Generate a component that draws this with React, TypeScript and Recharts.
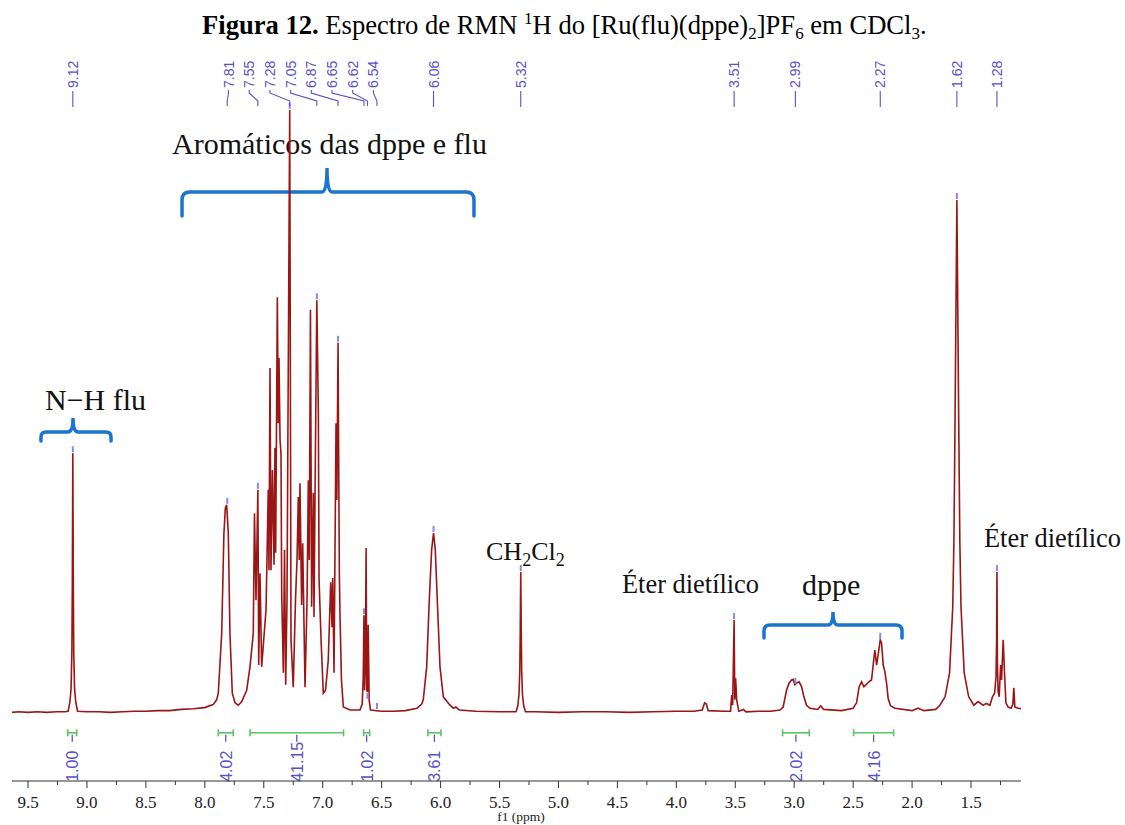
import React from "react";
import { ComposedChart, Line, XAxis, YAxis, ReferenceLine, ReferenceDot } from "recharts";

// [ppm, intensity]; baseline = 0, tallest line ~100
const nhRegion: [number, number][] = [
  [9.636, 0.1], [9.58, 0.2], [9.5, 0.1], [9.42, 0.2], [9.34, 0.1], [9.26, 0.2], [9.19, 0.2],
  [9.16, 0.3], [9.145, 1.8], [9.135, 4], [9.128, 10], [9.124, 22], [9.12, 43.3], [9.116, 22],
  [9.112, 10], [9.105, 4], [9.095, 1.8], [9.08, 0.3], [9.0, 0.2], [8.9, 0.2], [8.8, 0.1],
  [8.7, 0.2], [8.6, 0.3], [8.5, 0.3], [8.4, 0.4], [8.3, 0.4], [8.2, 0.6], [8.1, 0.7], [8.0, 0.9],
];

const aromaticRegion: [number, number][] = [
  [7.93, 1.4], [7.9, 2.2], [7.886, 3.3], [7.857, 13.3], [7.838, 30], [7.826, 34.2], [7.815, 34.7],
  [7.801, 30], [7.787, 13.3], [7.767, 3.3], [7.744, 1.7], [7.716, 1.3], [7.687, 1.9], [7.645, 3.8],
  [7.617, 7.7], [7.589, 13.3], [7.579, 33.3], [7.566, 18.8], [7.55, 37.2], [7.543, 8], [7.532, 23.3],
  [7.518, 7.7], [7.481, 17.2], [7.462, 37.2], [7.456, 23.8], [7.447, 57.5], [7.439, 23.8],
  [7.426, 40.5], [7.413, 24.7], [7.405, 44.2], [7.399, 26.7], [7.385, 69.3], [7.377, 48.3],
  [7.371, 59.2], [7.362, 45.5], [7.354, 43.3], [7.348, 20], [7.334, 6.7], [7.324, 27.2],
  [7.314, 4.7], [7.303, 18.8], [7.28, 100.5], [7.269, 12.2], [7.25, 4.3], [7.231, 18.8],
  [7.218, 25.5], [7.207, 36], [7.199, 25.5], [7.193, 38.3], [7.179, 18], [7.17, 28.3], [7.15, 4.3],
  [7.133, 18.8], [7.122, 38.8], [7.114, 25.5], [7.104, 67.2], [7.094, 17.7], [7.08, 36.7],
  [7.074, 16], [7.065, 36.8], [7.05, 68.8], [7.037, 50], [7.031, 22.2], [7.014, 12.2],
  [6.995, 3.3], [6.976, 3.8], [6.953, 8.8], [6.932, 21.8], [6.921, 14.3], [6.915, 22.5],
  [6.904, 6.7], [6.887, 48.3], [6.88, 35.5], [6.87, 61.7], [6.866, 47.2], [6.859, 23.3],
  [6.853, 16], [6.841, 5.5], [6.825, 1], [6.768, 0.5], [6.684, 0.5], [6.665, 1.5], [6.656, 6],
  [6.65, 16.3], [6.645, 3.8], [6.638, 8], [6.632, 27.5], [6.626, 3.8], [6.621, 3.5], [6.614, 14.7],
  [6.606, 2.2], [6.595, 0.5], [6.5, 0.3],
];

const midRegion: [number, number][] = [
  [6.4, 0.3], [6.3, 0.4], [6.2, 0.8], [6.16, 1.5], [6.147, 2.2], [6.118, 7.7], [6.096, 18.8],
  [6.076, 27.2], [6.06, 30], [6.045, 27.2], [6.028, 18.8], [6.005, 7.7], [5.977, 2.7], [5.92, 1.3],
  [5.89, 0.8], [5.87, 1.0], [5.84, 0.5], [5.7, 0.3], [5.5, 0.2], [5.36, 0.2], [5.345, 1.2],
  [5.335, 3], [5.328, 7], [5.324, 14], [5.32, 23.5], [5.316, 14], [5.312, 7], [5.305, 3],
  [5.295, 1.2], [5.28, 0.2], [5.2, 0.2], [5.0, 0.1], [4.8, 0.2], [4.6, 0.2], [4.4, 0.1], [4.2, 0.2],
  [4.0, 0.3], [3.85, 0.3], [3.78, 0.5], [3.76, 1.7], [3.745, 1.5], [3.73, 0.4], [3.6, 0.3],
  [3.54, 0.3], [3.53, 3], [3.522, 1.3], [3.51, 15.5], [3.504, 2.2], [3.497, 5.8], [3.488, 2.2],
  [3.48, 1.3], [3.47, 0.3], [3.43, 0.6], [3.41, 0.2], [3.3, 0.3], [3.2, 0.3],
];

const aliphaticRegion: [number, number][] = [
  [3.12, 0.5], [3.094, 1], [3.065, 3.8], [3.043, 5], [3.022, 5.5], [3.009, 5.6], [2.994, 4.7],
  [2.98, 5], [2.958, 5.2], [2.938, 4.4], [2.918, 2.7], [2.895, 1.3], [2.867, 0.8], [2.8, 0.6],
  [2.775, 1.2], [2.75, 0.6], [2.6, 0.4], [2.5, 0.8], [2.471, 1.7], [2.449, 4.4], [2.429, 5.2],
  [2.409, 4.4], [2.386, 4.8], [2.367, 5.2], [2.344, 5.5], [2.316, 10.5], [2.301, 8], [2.288, 9.7],
  [2.27, 12.2], [2.259, 11.7], [2.245, 8], [2.231, 6.9], [2.216, 4.9], [2.203, 2.4], [2.183, 1.2],
  [2.146, 0.8], [2.0, 0.4], [1.95, 0.8], [1.9, 0.4], [1.8, 0.6], [1.764, 1.3], [1.72, 2.7],
  [1.682, 6.7], [1.655, 17.7], [1.645, 28.8], [1.635, 50], [1.62, 85.5], [1.605, 50],
  [1.595, 28.8], [1.585, 17.7], [1.558, 6.7], [1.52, 2.7], [1.476, 1.3], [1.44, 1.9], [1.397, 1.3],
  [1.369, 1.6], [1.34, 1.3], [1.318, 2.7], [1.3, 3.3], [1.288, 6], [1.283, 12], [1.28, 23.5],
  [1.276, 8], [1.27, 3.5], [1.261, 2.7], [1.249, 8], [1.241, 5.5], [1.227, 12.2], [1.216, 6.7],
  [1.204, 1.7], [1.185, 1.0], [1.16, 0.8], [1.145, 1.5], [1.137, 4.2], [1.128, 1.0], [1.1, 0.8],
  [1.076, 0.7],
];

// peak picking (label ppm, height of the peak top)
const peakPpm = [9.12, 7.81, 7.55, 7.28, 7.05, 6.87, 6.65, 6.62, 6.54, 6.06, 5.32, 3.51, 2.99, 2.27, 1.62, 1.28];
const peakTop = [43.3, 34.7, 37.2, 100.5, 68.8, 61.7, 16.3, 2.2, 0.5, 30, 23.5, 15.5, 4.7, 12.2, 85.5, 23.5];
const fannedPeaks = [7.81, 7.55, 7.28, 7.05, 6.87, 6.65, 6.62, 6.54];

// integrals
const integralFrom = [9.163, 7.886, 7.617, 6.653, 6.108, 3.099, 2.496];
const integralTo = [9.087, 7.759, 6.823, 6.602, 5.997, 2.872, 2.157];
const integralValue = ["1.00", "4.02", "41.15", "1.02", "3.61", "2.02", "4.16"];

const majorTicks = [9.5, 9.0, 8.5, 8.0, 7.5, 7.0, 6.5, 6.0, 5.5, 5.0, 4.5, 4.0, 3.5, 3.0, 2.5, 2.0, 1.5];
const minorTicks = [9.25, 8.75, 8.25, 7.75, 7.25, 6.75, 6.25, 5.75, 5.25, 4.75, 4.25, 3.75, 3.25, 2.75, 2.25, 1.75, 1.25];

const spectrum = [...nhRegion, ...aromaticRegion, ...midRegion, ...aliphaticRegion].map(([ppm, h]) => ({ ppm, h }));

const SERIF = "'Liberation Serif', 'Times New Roman', serif";
const SANS = "'Liberation Sans', Arial, sans-serif";
const PICK = "#5652c6";
const INTEGRAL_Y = -3.3;
const FAN_X0 = 228.5;
const FAN_GAP = 20.7;

function AxisTick({ x, y, payload }: any) {
  const v = payload.value;
  const major = majorTicks.includes(v);
  return (
    <g>
      <line x1={x} x2={x} y1={y} y2={y + (major ? 7 : 4)} stroke="#333" strokeWidth={1} />
      {major && (
        <text x={x} y={y + 27} textAnchor="middle" fontFamily={SERIF} fontSize={17} fill="#222">
          {v.toFixed(1)}
        </text>
      )}
    </g>
  );
}

function PeakPick({ cx, cy, ppm }: any) {
  const k = fannedPeaks.indexOf(ppm);
  const lx = k >= 0 ? FAN_X0 + k * FAN_GAP : cx;
  const leader = k >= 0 ? `M${lx},90 L${lx},93 L${cx},101 L${cx},106` : `M${cx},91 L${cx},107`;
  return (
    <g>
      <line x1={cx} x2={cx} y1={cy - 7} y2={cy - 1} stroke="#8a88e4" strokeWidth={2} />
      <path d={leader} stroke={PICK} strokeWidth={1.1} fill="none" />
      <text transform={`translate(${lx + 5},88) rotate(-90)`} fontFamily={SANS} fontSize={14} fill={PICK}>
        {ppm.toFixed(2)}
      </text>
    </g>
  );
}

function IntegralMark({ x1, y1, x2, value }: any) {
  const a = Math.min(x1, x2);
  const b = Math.max(x1, x2);
  const mid = (a + b) / 2;
  return (
    <g>
      <line x1={a} x2={b} y1={y1} y2={y1} stroke="#5cc462" strokeWidth={1.6} />
      <line x1={a} x2={a} y1={y1 - 3.5} y2={y1 + 3.5} stroke="#5cc462" strokeWidth={1.6} />
      <line x1={b} x2={b} y1={y1 - 3.5} y2={y1 + 3.5} stroke="#5cc462" strokeWidth={1.6} />
      <line x1={mid} x2={mid} y1={y1 + 2} y2={y1 + 9} stroke={PICK} strokeWidth={1.3} />
      <text transform={`translate(${mid + 6},${y1 + 49}) rotate(-90)`} fontFamily={SANS} fontSize={16} fill={PICK}>
        {value}
      </text>
    </g>
  );
}

function brace(xl: number, xr: number, y: number, yEnd: number, xm: number, yTip: number, r: number) {
  return `M${xl},${yEnd} L${xl},${y + r} Q${xl},${y} ${xl + r},${y} L${xm - 5},${y} Q${xm},${y} ${xm},${yTip} ` +
    `Q${xm},${y} ${xm + 5},${y} L${xr - r},${y} Q${xr},${y} ${xr},${y + r} L${xr},${yEnd}`;
}

export default function App() {
  return (
    <div style={{ position: "absolute", left: 0, top: 0, width: 1125, height: 825, background: "#fff", overflow: "hidden" }}>
      <svg width={1125} height={825} style={{ position: "absolute", left: 0, top: 0 }}>
        <text x={202} y={34} fontFamily={SERIF} fontSize={26.6} fill="#000">
          <tspan fontWeight="bold">Figura 12.</tspan>
          <tspan> Espectro de RMN </tspan>
          <tspan dy={-10} fontSize={17}>1</tspan>
          <tspan dy={10}>H do [Ru(flu)(dppe)</tspan>
          <tspan dy={5} fontSize={17}>2</tspan>
          <tspan dy={-5}>]PF</tspan>
          <tspan dy={5} fontSize={17}>6</tspan>
          <tspan dy={-5}> em CDCl</tspan>
          <tspan dy={5} fontSize={17}>3</tspan>
          <tspan dy={-5}>.</tspan>
        </text>

        <text x={172} y={154} fontFamily={SERIF} fontSize={30} fill="#111">Aromáticos das dppe e flu</text>
        <path d={brace(182, 474, 192, 216, 327, 168, 8)} stroke="#1b75d0" strokeWidth={3.5} fill="none" strokeLinecap="round" />

        <text x={45} y={410} fontFamily={SERIF} fontSize={30} fill="#111">N−H flu</text>
        <path d={brace(41, 111, 432, 441, 73, 418, 5)} stroke="#1b75d0" strokeWidth={3.5} fill="none" strokeLinecap="round" />

        <text x={486} y={560} fontFamily={SERIF} fontSize={26} fill="#111">
          CH<tspan dy={6} fontSize={18}>2</tspan><tspan dy={-6}>Cl</tspan><tspan dy={6} fontSize={18}>2</tspan>
        </text>

        <text x={622} y={593} fontFamily={SERIF} fontSize={26.4} fill="#111">Éter dietílico</text>
        <text x={802} y={595} fontFamily={SERIF} fontSize={30} fill="#111">dppe</text>
        <path d={brace(764, 902, 625, 638, 833, 612, 6)} stroke="#1b75d0" strokeWidth={3.5} fill="none" strokeLinecap="round" />

        <text x={984} y={547} fontFamily={SERIF} fontSize={26.4} fill="#111">Éter dietílico</text>

        <text x={521} y={821} textAnchor="middle" fontFamily={SERIF} fontSize={13.5} fill="#222">f1 (ppm)</text>
      </svg>

      <div style={{ position: "absolute", left: 0, top: 0 }}>
        <ComposedChart width={1125} height={825} data={spectrum} margin={{ top: 100, right: 104, bottom: 4, left: 12 }}>
          <XAxis
            dataKey="ppm"
            type="number"
            domain={[1.076, 9.636]}
            reversed
            allowDataOverflow
            ticks={[...majorTicks, ...minorTicks]}
            interval={0}
            tick={(p: any) => <AxisTick {...p} />}
            tickLine={false}
            tickSize={0}
            tickMargin={0}
            height={40}
            axisLine={{ stroke: "#333", strokeWidth: 1 }}
          />
          <YAxis hide type="number" domain={[-11.33, 102.17]} allowDataOverflow />
          <Line
            dataKey="h"
            type="linear"
            stroke="#9c1515"
            strokeWidth={1.6}
            dot={false}
            activeDot={false}
            isAnimationActive={false}
          />
          {integralFrom.map((a, i) => (
            <ReferenceLine
              key={`int-${i}`}
              segment={[{ x: a, y: INTEGRAL_Y }, { x: integralTo[i], y: INTEGRAL_Y }]}
              ifOverflow="visible"
              shape={(p: any) => <IntegralMark {...p} value={integralValue[i]} />}
            />
          ))}
          {peakPpm.map((p, i) => (
            <ReferenceDot
              key={`pk-${p}`}
              x={p}
              y={peakTop[i]}
              ifOverflow="visible"
              shape={(props: any) => <PeakPick {...props} ppm={p} />}
            />
          ))}
        </ComposedChart>
      </div>
    </div>
  );
}
